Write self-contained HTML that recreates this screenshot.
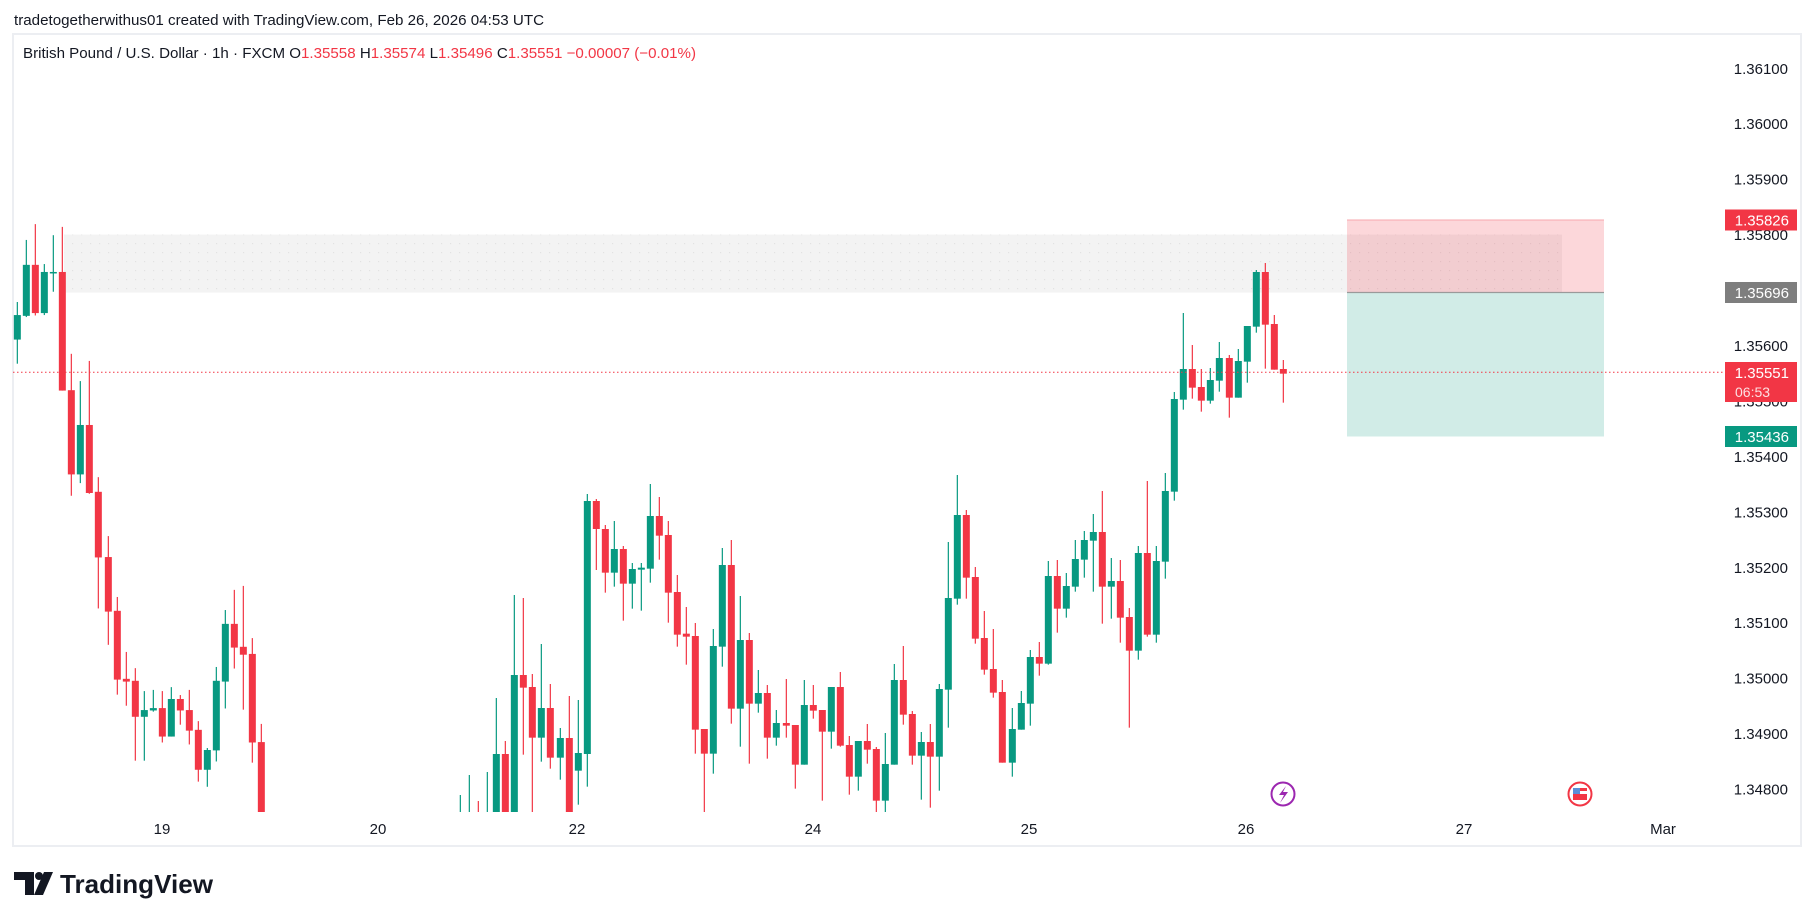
<!DOCTYPE html>
<html><head><meta charset="utf-8">
<style>
html,body{margin:0;padding:0;background:#fff;}
svg{display:block;font-family:"Liberation Sans",sans-serif;}
</style></head>
<body>
<svg id="s" xmlns="http://www.w3.org/2000/svg" width="1814" height="921" viewBox="0 0 1814 921">
<defs>
<clipPath id="pane"><rect x="13" y="34" width="1710" height="778"/></clipPath>
<pattern id="dots" width="9" height="9" patternUnits="userSpaceOnUse"><rect x="0" y="0" width="1.2" height="1.2" fill="#e2e2e2"/></pattern>
</defs>
<rect width="1814" height="921" fill="#fff"/>
<text x="14" y="25" font-size="15" fill="#131722" textLength="530" lengthAdjust="spacingAndGlyphs">tradetogetherwithus01 created with TradingView.com, Feb 26, 2026 04:53 UTC</text>
<rect x="13" y="34" width="1788" height="812" fill="none" stroke="#eceef2" stroke-width="2"/>
<!-- zone -->
<rect x="64" y="234.6" width="1498" height="58" fill="#f3f3f3"/>
<rect x="64" y="234.6" width="1498" height="58" fill="url(#dots)"/>
<!-- position -->
<rect x="1347" y="220" width="257" height="72.5" fill="#f23645" fill-opacity="0.2"/>
<rect x="1347" y="292.5" width="257" height="144" fill="#089981" fill-opacity="0.19"/>
<line x1="1347" y1="292.5" x2="1604" y2="292.5" stroke="#9a9a9a" stroke-width="1.2"/>
<line x1="1347" y1="220" x2="1604" y2="220" stroke="#f7a7ad" stroke-width="1"/>
<g id="candles" clip-path="url(#pane)"></g>
<line x1="13" y1="372.3" x2="1724" y2="372.3" stroke="#f23645" stroke-width="1" stroke-dasharray="1.5,2.5"/>
<text x="23" y="58" font-size="15" fill="#131722" textLength="673" lengthAdjust="spacingAndGlyphs">British Pound / U.S. Dollar · 1h · FXCM  O<tspan fill="#f23645">1.35558</tspan>  H<tspan fill="#f23645">1.35574</tspan>  L<tspan fill="#f23645">1.35496</tspan>  C<tspan fill="#f23645">1.35551</tspan>  <tspan fill="#f23645">−0.00007 (−0.01%)</tspan></text>
<g id="axis" font-size="15" fill="#131722" text-anchor="end"></g>
<!-- labels -->
<rect x="1725" y="209.5" width="72" height="21" fill="#f23645"/>
<text x="1789" y="225.5" font-size="15" fill="#fff" text-anchor="end">1.35826</text>
<rect x="1725" y="282" width="72" height="21" fill="#7e7e7e"/>
<text x="1789" y="298" font-size="15" fill="#fff" text-anchor="end">1.35696</text>
<rect x="1725" y="362" width="72" height="40" fill="#f23645"/>
<text x="1789" y="378" font-size="15" fill="#fff" text-anchor="end">1.35551</text>
<text x="1735" y="397" font-size="14" fill="#fde0e2">06:53</text>
<rect x="1725" y="426" width="72" height="21" fill="#089981"/>
<text x="1789" y="442" font-size="15" fill="#fff" text-anchor="end">1.35436</text>
<!-- time axis -->
<g font-size="15" fill="#131722" text-anchor="middle">
<text x="162" y="834">19</text><text x="378" y="834">20</text><text x="577" y="834">22</text>
<text x="813" y="834">24</text><text x="1029" y="834">25</text><text x="1246" y="834">26</text>
<text x="1464" y="834">27</text><text x="1663" y="834">Mar</text>
</g>
<!-- icons -->
<circle cx="1283" cy="794" r="11.5" fill="#fff" stroke="#9c27b0" stroke-width="2"/>
<path d="M1286 786 L1279 795 L1284 795 L1280 803 L1288 792 L1283 792 Z" fill="#9c27b0"/>
<circle cx="1580" cy="794" r="11.5" fill="#fff" stroke="#f23645" stroke-width="2"/>
<rect x="1573" y="788" width="14" height="12" fill="#f23645"/>
<rect x="1573" y="791" width="14" height="3" fill="#fff"/>
<rect x="1573" y="788" width="7" height="6" fill="#5b8fd8"/>
<!-- logo -->
<path d="M14 872 H34 V895 H25 V880 H14 Z" fill="#131722"/>
<circle cx="39" cy="876" r="4" fill="#131722"/>
<path d="M44 872 H53 L43 895 H34 Z" fill="#131722"/>
<text x="60" y="893" font-size="26" font-weight="bold" fill="#131722" textLength="153" lengthAdjust="spacingAndGlyphs">TradingView</text>
</svg>
<script>
(function(){
var NS="http://www.w3.org/2000/svg";
var G="#089981",R="#f23645";
function yp(p){return 68.3+(1.361-p)*55440;}
var ax=document.getElementById('axis');
var ps=[1.361,1.360,1.359,1.358,1.357,1.356,1.355,1.354,1.353,1.352,1.351,1.350,1.349,1.348];
ps.forEach(function(p){var t=document.createElementNS(NS,'text');t.setAttribute('x',1788);t.setAttribute('y',yp(p)+5.5);t.textContent=p.toFixed(5);ax.appendChild(t);});
var g=document.getElementById('candles');
function add(x,c,bt,bb,wt,wb){
 var l=document.createElementNS(NS,'rect');l.setAttribute('x',x-0.6);l.setAttribute('y',wt);l.setAttribute('width',1.2);l.setAttribute('height',Math.max(wb-wt,1));l.setAttribute('fill',c);g.appendChild(l);
 var b=document.createElementNS(NS,'rect');b.setAttribute('x',x-3.5);b.setAttribute('y',bt);b.setAttribute('width',7);b.setAttribute('height',Math.max(bb-bt,1.5));b.setAttribute('fill',c);g.appendChild(b);
}
function run(list,fx,fy){list.forEach(function(d){add(fx(d[0]),d[1]=='G'?G:R,fy(d[2]),fy(d[3]),fy(d[4]),fy(d[5]));});}
var z4=[[52,'G',291,353,258,414],[79,'G',164,293,101,296],[106,'R',164,286,61,292],[133,'G',182,286,162,291],[160,'G',182,184,89,232],[187,'R',182,482,68,482],[214,'R',481,694,389,748],[241,'G',569,694,458,716],[268,'R',569,741,407,743],[295,'R',738,904,701,1033],[325,'R',903,1041,850,1125],[352,'R',1039,1213,1004,1251],[379,'R',1211,1218,1143,1279],[406,'R',1216,1307,1184,1418],[433,'G',1290,1307,1242,1418],[460,'G',1285,1291,1239,1294],[487,'R',1285,1357,1242,1372],[514,'G',1262,1357,1232,1357],[541,'R',1262,1291,1252,1327],[568,'R',1290,1342,1239,1377],[595,'R',1340,1441,1318,1471],[622,'G',1391,1441,1386,1484],[649,'G',1216,1392,1181,1420],[676,'G',1072,1218,1037,1286],[703,'R',1072,1132,986,1185],[730,'R',1130,1150,976,1289],[757,'R',1148,1372,1108,1423],[784,'R',1371,1700,1325,1700]];
run(z4,function(x){return x/3;},function(y){return 200+y*0.3954;});
var z5=[[61,'G',1060,1070,1005,1070],[88,'G',1060,1070,945,1070],[115,'R',1060,1070,1023,1070],[142,'G',1060,1070,936,1070],[169,'G',882,1070,714,1070],[196,'R',882,1070,843,1070],[223,'G',645,1070,405,1070],[250,'R',645,683,414,884],[277,'R',681,833,642,1070],[304,'G',744,833,552,905],[331,'R',744,893,672,926],[361,'G',834,893,804,959],[388,'R',834,1070,708,1070],[415,'G',879,932,720,1034],[442,'G',123,882,102,980],[469,'R',123,207,117,330],[496,'R',207,338,195,398],[523,'G',267,338,183,380],[550,'R',267,371,258,482],[577,'G',327,371,309,446],[604,'G',323,329,309,452],[631,'G',168,326,72,368],[658,'R',168,227,111,299],[685,'R',225,398,183,488],[712,'R',396,524,345,560],[739,'R',521,530,441,614],[766,'R',528,809,489,881],[793,'R',807,881,807,1070],[820,'G',558,881,507,941],[847,'G',315,560,264,620],[874,'R',315,746,240,791],[901,'G',540,746,408,860],[928,'R',540,731,519,911],[955,'G',699,731,630,758],[982,'R',699,833,675,896],[1009,'G',789,833,750,857],[1039,'R',789,797,657,833],[1066,'R',795,914,795,986],[1093,'G',735,914,660,914],[1120,'R',735,752,675,776],[1147,'R',750,815,750,1022],[1174,'G',681,815,681,866],[1201,'R',681,857,636,860],[1228,'R',855,950,828,1004],[1255,'G',843,950,843,992],[1282,'R',843,869,792,911],[1309,'R',867,1022,861,1070],[1336,'G',912,1022,819,1070]];
run(z5,function(x){return 440+x/3;},function(y){return 460+y/3;});
var z6=[[73,'G',690,944,642,944],[100,'R',690,794,588,824],[127,'R',792,917,783,944],[154,'G',876,917,846,1049],[181,'R',876,920,822,1073],[208,'G',717,920,702,1022],[235,'G',444,719,276,833],[262,'G',195,446,75,464],[289,'R',195,383,180,446],[316,'R',381,566,351,581],[343,'R',564,659,483,674],[370,'R',657,728,537,743],[397,'R',726,938,690,938],[427,'G',837,938,774,980],[454,'G',759,839,723,839],[481,'G',621,761,600,827],[508,'R',621,641,576,677],[535,'G',378,641,333,644],[562,'R',378,476,330,548],[589,'G',408,476,369,503],[616,'G',327,410,270,425],[643,'G',270,329,243,383],[670,'G',246,272,192,425],[697,'R',246,410,123,521],[724,'G',393,410,324,506],[751,'R',393,503,330,578],[778,'R',501,602,474,833],[805,'G',309,602,288,629],[832,'R',309,554,93,560],[859,'G',333,554,288,578],[886,'G',123,335,69,386]];
run(z6,function(x){return 870+x/3;},function(y){return 450+y/3;});
var z7=[[523,'G',447,725,426,752],[550,'G',357,449,189,479],[577,'R',357,413,285,446],[604,'R',411,452,357,485],[631,'G',390,452,354,461],[658,'G',324,392,276,425],[688,'R',324,443,315,503],[715,'G',333,443,297,443],[742,'G',228,335,228,398],[769,'G',66,230,60,248],[796,'R',66,224,39,356],[823,'R',222,359,195,359],[850,'R',357,371,330,458]];
run(z7,function(x){return 1000+x/3;},function(y){return 250+y/3;});
})();
</script>
</body></html>
